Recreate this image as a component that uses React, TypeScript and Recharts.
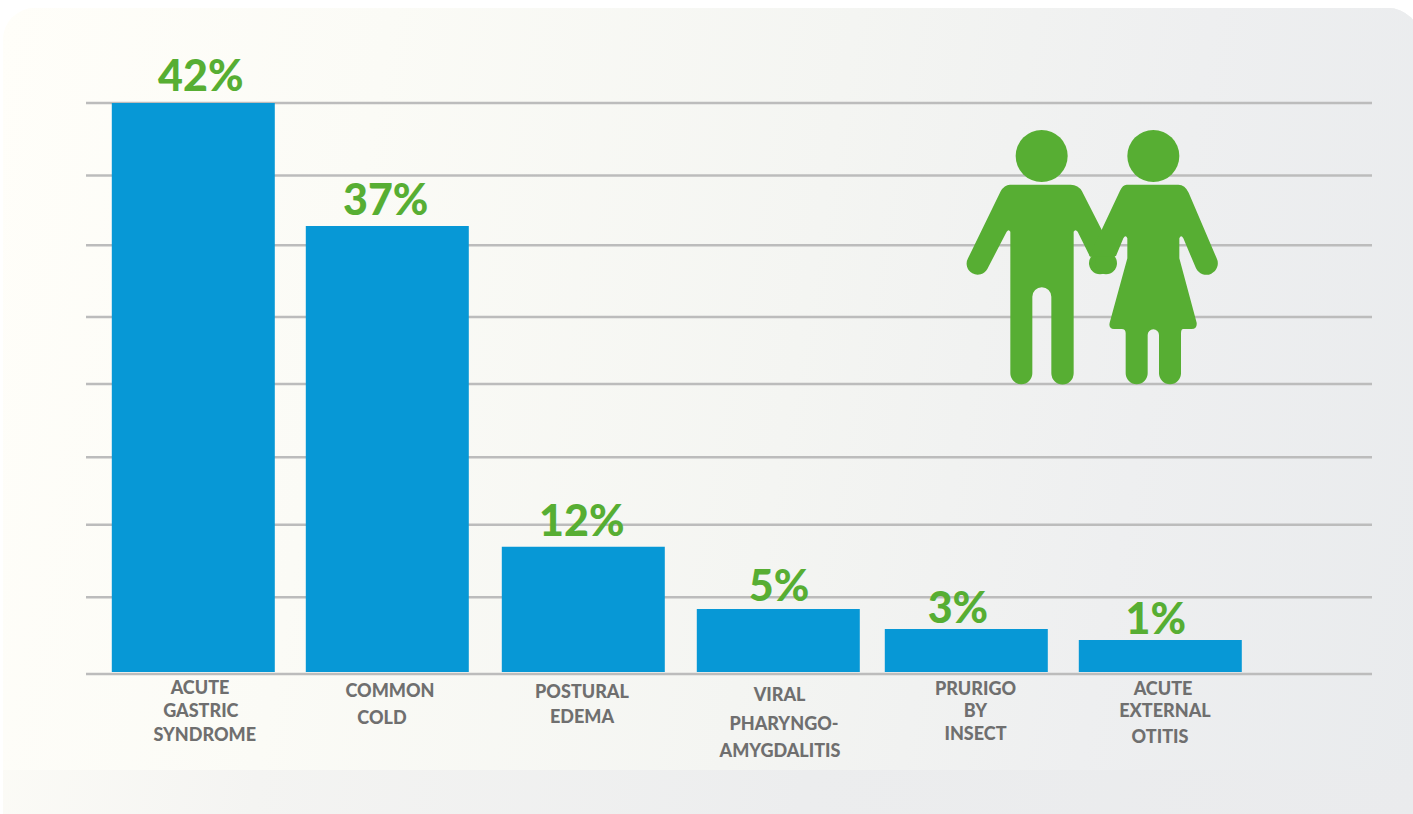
import { BarChart, Bar, XAxis, YAxis, CartesianGrid, LabelList, Rectangle } from 'recharts';

// Disease names, one array entry per printed line
const categories = [
  ['ACUTE', 'GASTRIC', 'SYNDROME'],
  ['COMMON', 'COLD'],
  ['POSTURAL', 'EDEMA'],
  ['VIRAL', 'PHARYNGO-', 'AMYGDALITIS'],
  ['PRURIGO', 'BY', 'INSECT'],
  ['ACUTE', 'EXTERNAL', 'OTITIS'],
];
// Percentages printed above the bars
const percents = [42, 37, 12, 5, 3, 1];
// Bar heights as drawn, read in gridline steps (the source is not to scale with its labels)
const barLevels = [8, 6.27, 1.76, 0.885, 0.605, 0.45];
// Gridlines, same unit
const gridLevels = [-0.028, 1.05, 2.07, 3.02, 4.05, 4.99, 6, 6.98, 8];

const data = categories.map((lines, i) => ({
  name: lines.join(' '),
  lines,
  percent: percents[i],
  level: barLevels[i],
}));

// The source lays its bars and labels out by hand, so small nudges off the band centres
const barNudge = [0, 0.6, 3.2, 4.8, -0.6, 0];
const percentNudge = [7.5, -1, 1.7, 5.5, -9, -4.5];
const percentGap = [12, 11, 11, 8, 6, 6];
const tickLines = [
  [[200, 694], [200.8, 717], [204.7, 741]],
  [[390, 697], [382, 724]],
  [[582, 698], [582, 723]],
  [[779.6, 701], [784, 730], [780, 757]],
  [[975.5, 695], [975.5, 717], [975.5, 740]],
  [[1163, 695], [1165, 717], [1160, 743]],
];

const GREEN = '#57ae33';
const BLUE = '#0798d6';

function NudgedBar(props: any) {
  return <Rectangle {...props} x={props.x + barNudge[props.index]} />;
}

function PercentLabel(props: any) {
  const { x, y, width, index, value } = props;
  return (
    <text
      x={x + width / 2 + percentNudge[index]}
      y={y - percentGap[index]}
      textAnchor="middle"
      fontFamily="Lato"
      fontWeight={900}
      fontSize={43}
      fill={GREEN}
    >
      {value}%
    </text>
  );
}

function DiseaseTick(props: any) {
  const { index } = props;
  const lines = categories[index];
  if (!lines) return null;
  return (
    <g>
      {lines.map((line, i) => (
        <text
          key={line}
          x={tickLines[index][i][0]}
          y={tickLines[index][i][1]}
          textAnchor="middle"
          fontFamily="Lato"
          fontWeight={900}
          fontSize={18}
          fill="#6f6f6f"
        >
          {line}
        </text>
      ))}
    </g>
  );
}

function Couple() {
  return (
    <svg
      width={280}
      height={275}
      viewBox="0 0 840 825"
      style={{ position: 'absolute', left: 950, top: 120 }}
    >
      <g fill={GREEN}>
        <circle cx={275} cy={108} r={78} />
        <circle cx={610} cy={108} r={78} />
        <circle cx={450} cy={430} r={33} />
        <circle cx={468} cy={430} r={33} />
        <path d="M180 194 H362 Q385 194 396 214 L496 410 L420 410 L383 335 Q376 326 371 335 V760 A33 33 0 0 1 304 760 V530 A28 28 0 0 0 247 530 V760 A33 33 0 0 1 181 760 V335 Q176 326 170 335 L112 447 A33 33 0 0 1 54 415 L152 214 Q163 194 180 194 Z" />
        <path d="M530 194 H685 Q705 194 716 218 L800 415 A33 33 0 0 1 738 445 L700 355 Q693 343 688 355 V415 L740 608 Q742 627 725 627 H700 Q693 627 693 640 V760 A33 33 0 0 1 627 760 V645 A17 17 0 0 0 593 645 V760 A33 33 0 0 1 527 760 V640 Q527 627 515 627 H492 Q475 627 479 608 L532 415 V355 Q527 343 520 355 L498 408 L418 408 L510 212 Q518 194 530 194 Z" />
      </g>
    </svg>
  );
}

export default function App() {
  return (
    <div style={{ position: 'absolute', left: 0, top: 0, width: 1413, height: 814, overflow: 'hidden', background: '#fff' }}>
      <div
        style={{
          position: 'absolute',
          left: 3,
          top: 8,
          width: 1417,
          height: 836,
          borderRadius: 32,
          background: 'linear-gradient(100deg, #fffef8 0%, #f4f4f2 25%, #ecedee 60%, #eaebed 100%)',
        }}
      />
      <div
        style={{
          position: 'absolute',
          left: 3,
          top: 8,
          width: 1417,
          height: 762,
          borderRadius: '32px 32px 0 0',
          background: 'linear-gradient(100deg, #fffef9 0%, #fbfbf6 25%, #f4f5f2 55%, #eeeff0 78%, #e9ebed 100%)',
        }}
      />
      <BarChart
        width={1413}
        height={814}
        data={data}
        margin={{ top: 103, right: 41, bottom: 110, left: 86 }}
        style={{ position: 'absolute', left: 0, top: 0 }}
      >
        <CartesianGrid vertical={false} horizontalValues={gridLevels} stroke="#bcbcbc" strokeWidth={2.5} />
        <XAxis
          dataKey="name"
          interval={0}
          axisLine={false}
          tickLine={false}
          padding={{ left: 10.8, right: 114.8 }}
          tick={<DiseaseTick />}
        />
        <YAxis type="number" domain={[-0.028, 8]} hide />
        <Bar dataKey="level" fill={BLUE} barSize={163} shape={<NudgedBar />} isAnimationActive={false}>
          <LabelList dataKey="percent" content={<PercentLabel />} />
        </Bar>
      </BarChart>
      <Couple />
    </div>
  );
}
